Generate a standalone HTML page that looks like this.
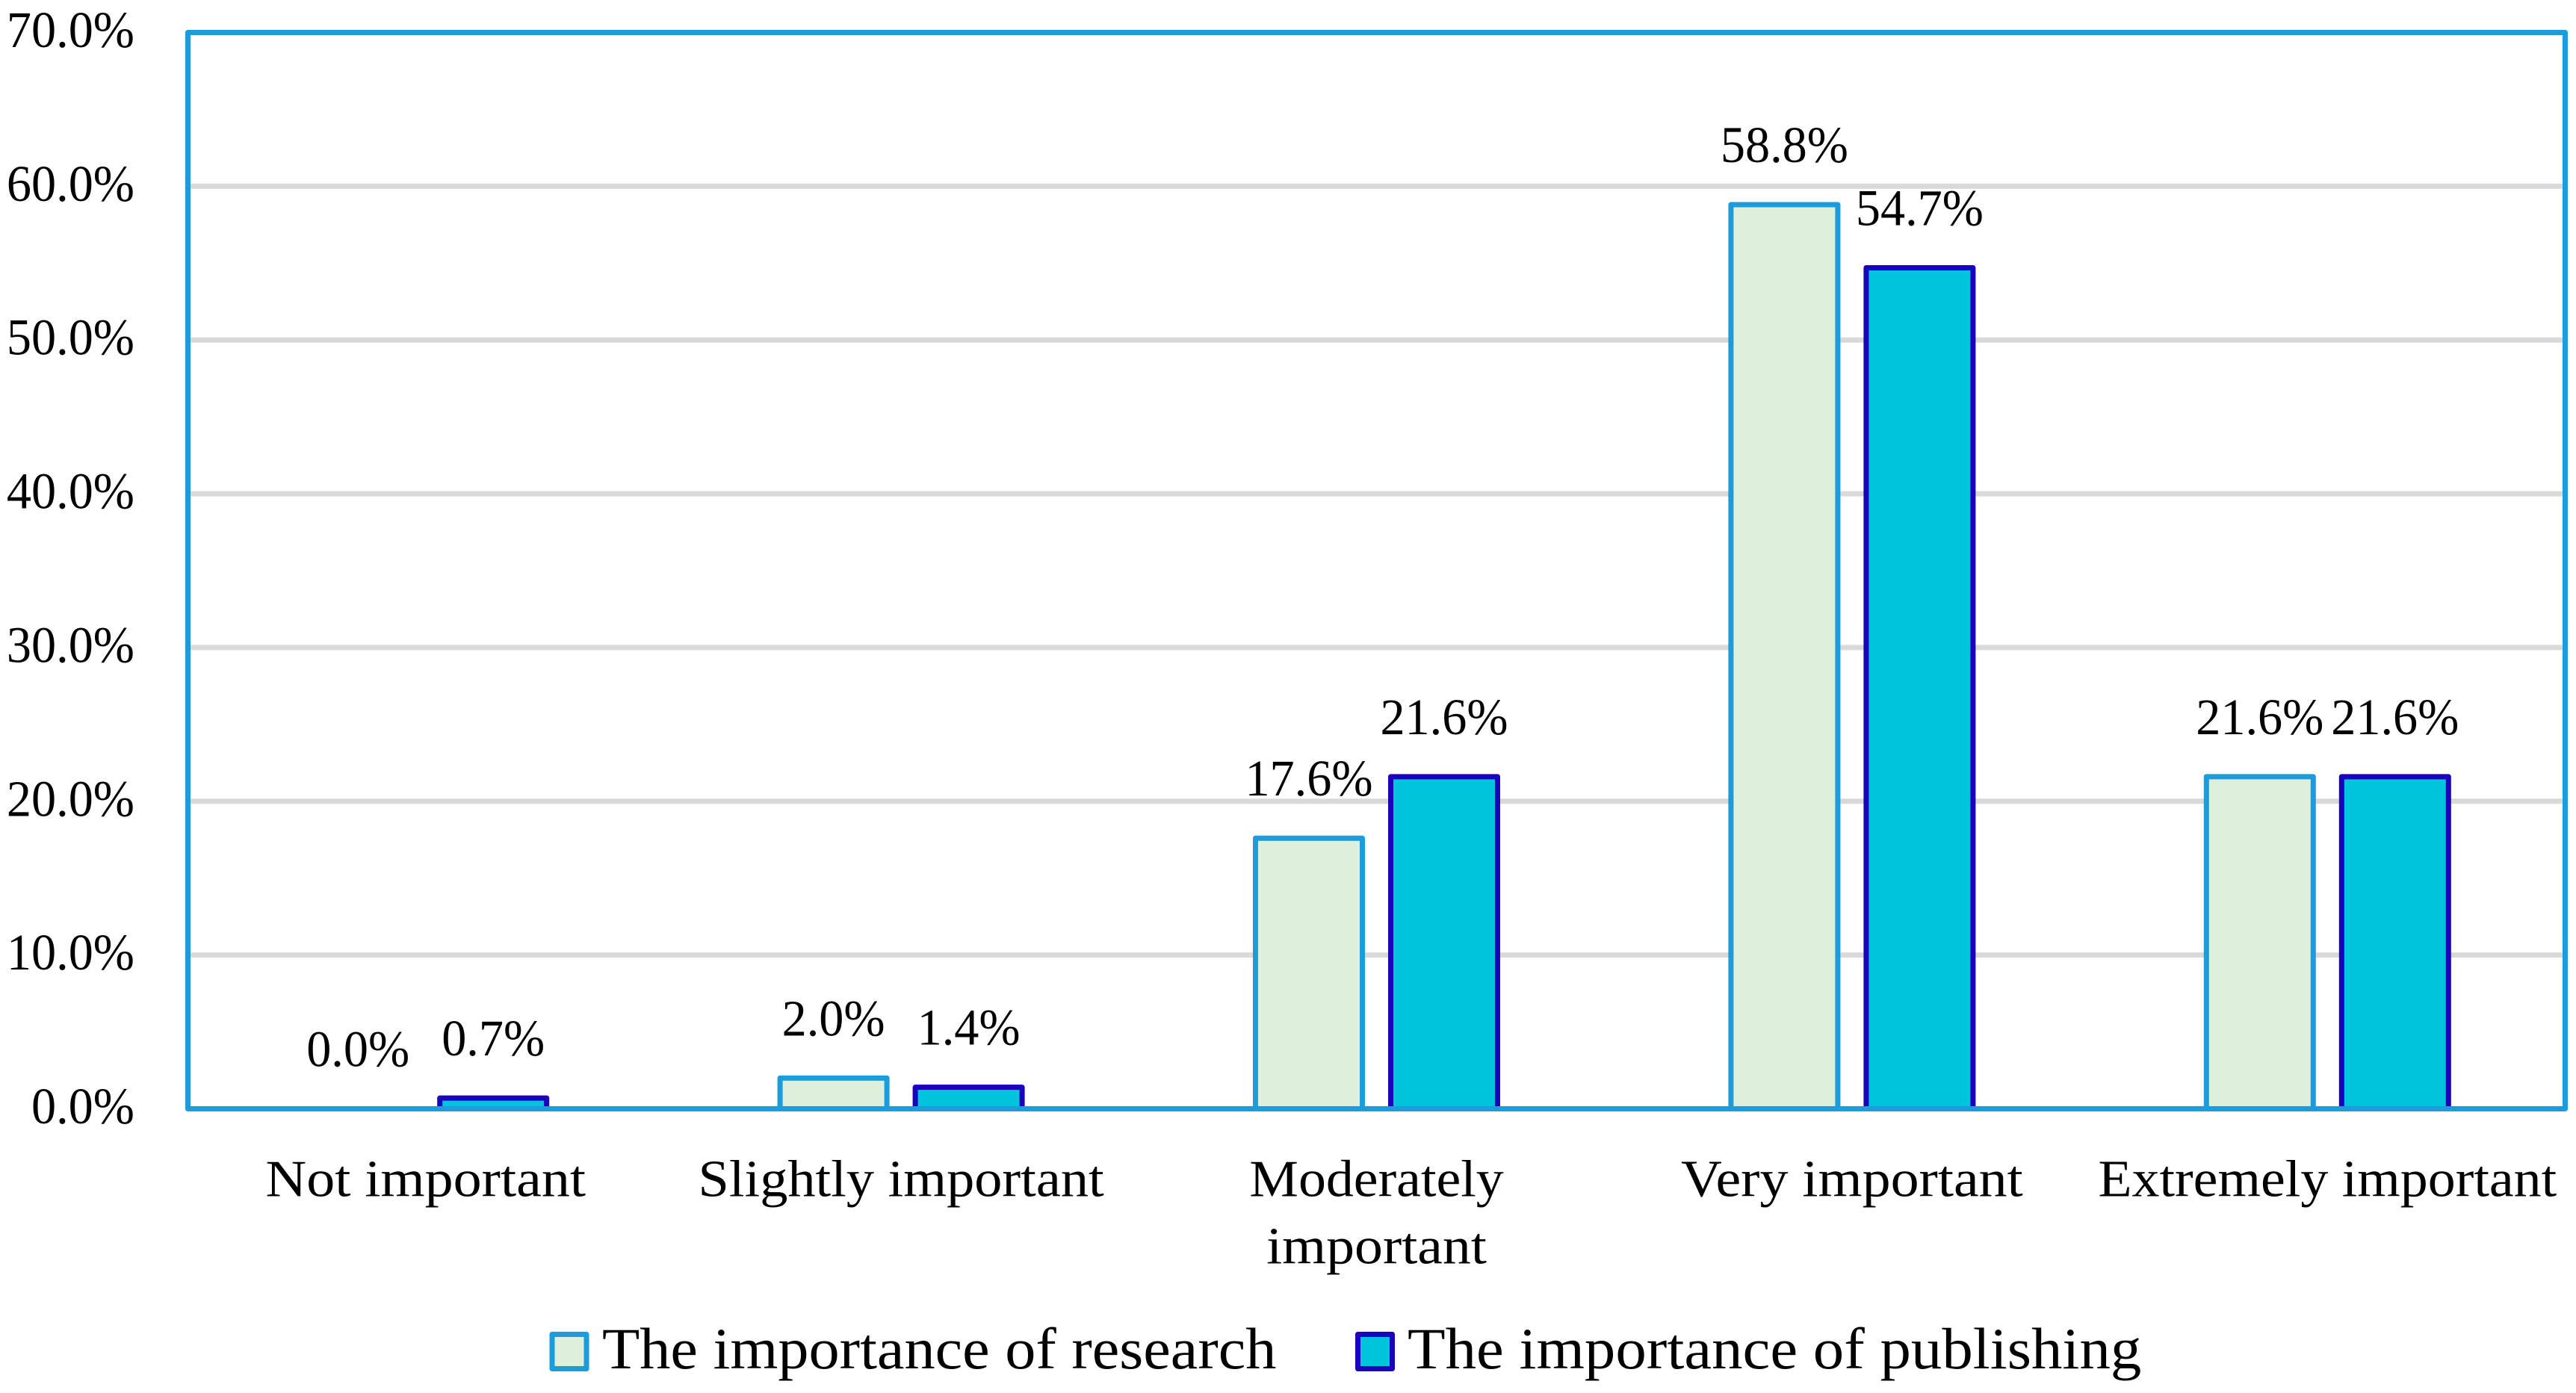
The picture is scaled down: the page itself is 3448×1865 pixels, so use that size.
<!DOCTYPE html>
<html lang="en">
<head>
<meta charset="utf-8">
<title>The importance of research and publishing</title>
<style>
  html, body { margin: 0; padding: 0; background: #ffffff; }
  svg { display: block; }
  text { font-family: "Liberation Serif", "Noto Serif CJK SC", serif; fill: #000000; }
</style>
</head>
<body>
<svg id="chart" xmlns="http://www.w3.org/2000/svg" width="3448" height="1865" viewBox="0 0 3448 1865">
  <rect x="0" y="0" width="3448" height="1865" fill="#ffffff"></rect>
  <g id="grid"></g>
  <g id="bars"></g>
  <rect id="frame" fill="none" stroke="#1c9cda" stroke-width="7" stroke-linejoin="round"></rect>
  <g id="yticks"></g>
  <g id="xlabels"></g>
  <g id="values"></g>
  <g id="legend">
    <rect x="739" y="1786.5" width="46" height="46" fill="#deefdc" stroke="#1c9cda" stroke-width="7" stroke-linejoin="round"></rect>
    <text id="legend-research" x="806" y="1832" font-size="78">The importance of research</text>
    <rect x="1817.5" y="1786.5" width="46" height="46" fill="#00c3dc" stroke="#1b02bb" stroke-width="7" stroke-linejoin="round"></rect>
    <text id="legend-publishing" x="1884" y="1832" font-size="78">The importance of publishing</text>
  </g>
</svg>
<script>
const categories = [
  ['Not important'],
  ['Slightly important'],
  ['Moderately', 'important'],
  ['Very important'],
  ['Extremely important']
];
const researchValues = [0.0, 2.0, 17.6, 58.8, 21.6];
const publishingValues = [0.7, 1.4, 21.6, 54.7, 21.6];
const tickValues = [0, 10, 20, 30, 40, 50, 60, 70];
const tickLabels = ['0.0%', '10.0%', '20.0%', '30.0%', '40.0%', '50.0%', '60.0%', '70.0%'];

const SVG_NS = 'http://www.w3.org/2000/svg';
const plot = { left: 251.5, right: 3433.5, top: 43.5, bottom: 1484.5, max: 70 };

/* Horizontal glyph fit: the reference typeface is wider than Liberation Serif by varying amounts. */
const numberFit = 0.96;
const categoryFit = {
  'Not important': 1.086,
  'Slightly important': 1.062,
  'Moderately': 1.055,
  'important': 1.083,
  'Very important': 1.085,
  'Extremely important': 1.056
};

function yScale(v) {
  return plot.bottom - (v / plot.max) * (plot.bottom - plot.top);
}
function bandCenter(i) {
  return plot.left + (plot.right - plot.left) / categories.length * (i + 0.5);
}
function make(tag, parent) {
  const el = document.createElementNS(SVG_NS, tag);
  parent.appendChild(el);
  return el;
}
function squeeze(el, k) {
  el.setAttribute('textLength', (el.getComputedTextLength() * k).toFixed(1));
  el.setAttribute('lengthAdjust', 'spacingAndGlyphs');
}

const frame = document.getElementById('frame');
frame.setAttribute('x', plot.left);
frame.setAttribute('y', plot.top);
frame.setAttribute('width', plot.right - plot.left);
frame.setAttribute('height', plot.bottom - plot.top);

const gridGroup = document.getElementById('grid');
const tickGroup = document.getElementById('yticks');
tickValues.forEach(function (v, i) {
  if (v > 0 && v < plot.max) {
    const line = make('line', gridGroup);
    
    
    line.setAttribute('x1', plot.left);
    line.setAttribute('x2', plot.right);
    line.setAttribute('y1', yScale(v));
    line.setAttribute('y2', yScale(v));
    line.setAttribute('stroke', '#d9d9d9');
    line.setAttribute('stroke-width', '7');
  }
  const label = make('text', tickGroup);
  
  
  label.setAttribute('x', 180);
  label.setAttribute('y', yScale(v) + 19.5);
  label.setAttribute('font-size', '69');
  label.setAttribute('text-anchor', 'end');
  label.textContent = tickLabels[i];
  squeeze(label, numberFit);
});

const barWidth = 143;
const barOffsets = [-162, 19];
const seriesStyles = [
  { values: researchValues, fill: '#deefdc', stroke: '#1c9cda' },
  { values: publishingValues, fill: '#00c3dc', stroke: '#1b02bb' }
];
const barGroup = document.getElementById('bars');
const valueGroup = document.getElementById('values');

seriesStyles.forEach(function (series, s) {
  series.values.forEach(function (v, i) {
    const left = bandCenter(i) + barOffsets[s];
    const bar = make('rect', barGroup);
    
    
    bar.setAttribute('x', left);
    bar.setAttribute('y', yScale(v));
    bar.setAttribute('width', barWidth);
    bar.setAttribute('height', plot.bottom - yScale(v));
    bar.setAttribute('fill', series.fill);
    bar.setAttribute('stroke', series.stroke);
    bar.setAttribute('stroke-width', '7');
    bar.setAttribute('stroke-linejoin', 'round');

    const label = make('text', valueGroup);
    
    
    label.setAttribute('x', left + barWidth / 2);
    label.setAttribute('y', yScale(v) - 57);
    label.setAttribute('font-size', '69');
    label.setAttribute('text-anchor', 'middle');
    label.textContent = v.toFixed(1) + '%';
    squeeze(label, numberFit);
  });
});

const xGroup = document.getElementById('xlabels');
categories.forEach(function (lines, i) {
  lines.forEach(function (line, n) {
    const label = make('text', xGroup);
    
    
    label.setAttribute('x', bandCenter(i));
    label.setAttribute('y', 1601.5 + n * 90);
    label.setAttribute('font-size', '70');
    label.setAttribute('text-anchor', 'middle');
    label.textContent = line;
    squeeze(label, categoryFit[line] || 1.07);
  });
});

squeeze(document.getElementById('legend-research'), 1.055);
squeeze(document.getElementById('legend-publishing'), 1.062);
</script>
</body>
</html>
